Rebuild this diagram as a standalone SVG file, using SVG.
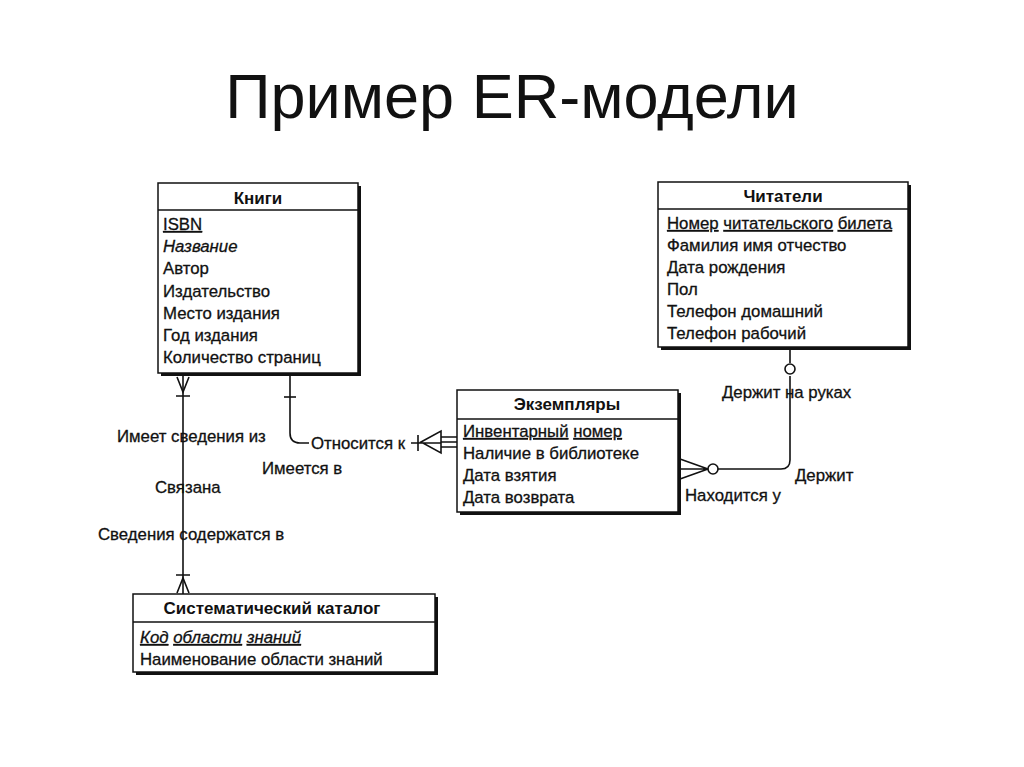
<svg xmlns="http://www.w3.org/2000/svg" width="1024" height="767" viewBox="0 0 1024 767">
<style>
text{font-family:"Liberation Sans",Arial,sans-serif;fill:#111}
.t{font-size:63px}
.h{font-size:17px;font-weight:bold;text-anchor:middle}
.a{font-size:16.8px;stroke:#111;stroke-width:0.3}
.l{font-size:16.8px;stroke:#111;stroke-width:0.3}
.u{text-decoration:underline}
.i{font-style:italic}
.box{fill:#fff;stroke:#111;stroke-width:1.5}
.sh{fill:#111}
.ln{fill:none;stroke:#111;stroke-width:1.6}
</style>
<rect width="1024" height="767" fill="#fff"/>
<text class="t" x="512" y="118" text-anchor="middle">Пример ER-модели</text>

<g id="connectors">
  <!-- Книги - Каталог -->
  <path class="ln" d="M183 373V594"/>
  <path class="ln" d="M177 377L183 392L189 377M176 396H190"/>
  <path class="ln" d="M176 575H190M177 593L183 578L189 593"/>
  <!-- Книги - Экземпляры -->
  <path class="ln" d="M290 373V433Q290 443 300 443H309"/>
  <path class="ln" d="M284 397H296"/>
  <path class="ln" d="M411 443H441M418 435V451M421 442L441 431V453Z"/>
  <path class="ln" d="M441 437H457M441 442H457M441 447H457"/>
  <!-- Читатели - Экземпляры -->
  <path class="ln" d="M790 347V363M790 376V460Q790 469 781 469H718"/>
  <circle class="ln" cx="790" cy="369" r="5"/>
  <circle class="ln" cx="713" cy="469" r="5"/>
  <path class="ln" d="M708 469L680 459M708 469H680M708 469L680 479"/>
</g>

<g id="labels">
  <text class="l" x="117" y="442">Имеет сведения из</text>
  <text class="l" x="155" y="493">Связана</text>
  <text class="l" x="98" y="540">Сведения содержатся в</text>
  <text class="l" x="311" y="449">Относится к</text>
  <text class="l" x="262" y="474">Имеется в</text>
  <text class="l" x="722" y="398">Держит на руках</text>
  <text class="l" x="795" y="481">Держит</text>
  <text class="l" x="685" y="501">Находится у</text>
</g>

<g id="knigi">
  <rect class="sh" x="161" y="186" width="200" height="190"/>
  <rect class="box" x="158" y="183" width="200" height="190"/>
  <line class="ln" x1="158" y1="210" x2="358" y2="210"/>
  <text class="h" x="258" y="204">Книги</text>
  <text class="a u" x="163" y="230">ISBN</text>
  <text class="a i" x="163" y="252">Название</text>
  <text class="a" x="163" y="274">Автор</text>
  <text class="a" x="163" y="297">Издательство</text>
  <text class="a" x="163" y="319">Место издания</text>
  <text class="a" x="163" y="341">Год издания</text>
  <text class="a" x="163" y="363">Количество страниц</text>
</g>

<g id="chitateli">
  <rect class="sh" x="661" y="185" width="250" height="165"/>
  <rect class="box" x="658" y="182" width="250" height="165"/>
  <line class="ln" x1="658" y1="209" x2="908" y2="209"/>
  <text class="h" x="783" y="202">Читатели</text>
  <text class="a" x="667" y="229"><tspan class="u">Номер</tspan> <tspan class="u">читательского</tspan> <tspan class="u">билета</tspan></text>
  <text class="a" x="667" y="251">Фамилия имя отчество</text>
  <text class="a" x="667" y="273">Дата рождения</text>
  <text class="a" x="667" y="295">Пол</text>
  <text class="a" x="667" y="317">Телефон домашний</text>
  <text class="a" x="667" y="339">Телефон рабочий</text>
</g>

<g id="ekzemplyary">
  <rect class="sh" x="460" y="393" width="221" height="122"/>
  <rect class="box" x="457" y="390" width="221" height="122"/>
  <line class="ln" x1="457" y1="419" x2="678" y2="419"/>
  <text class="h" x="567" y="410">Экземпляры</text>
  <text class="a" x="463" y="437"><tspan class="u">Инвентарный</tspan>  <tspan class="u">номер</tspan></text>
  <text class="a" x="463" y="459">Наличие в библиотеке</text>
  <text class="a" x="463" y="481">Дата взятия</text>
  <text class="a" x="463" y="503">Дата возврата</text>
</g>

<g id="katalog">
  <rect class="sh" x="136" y="597" width="302" height="78"/>
  <rect class="box" x="133" y="594" width="302" height="78"/>
  <line class="ln" x1="133" y1="622" x2="435" y2="622"/>
  <text class="h" x="272" y="614">Систематический каталог</text>
  <text class="a i" x="140" y="643"><tspan class="u">Код</tspan> <tspan class="u">области</tspan> <tspan class="u">знаний</tspan></text>
  <text class="a" x="140" y="665">Наименование области знаний</text>
</g>
</svg>
